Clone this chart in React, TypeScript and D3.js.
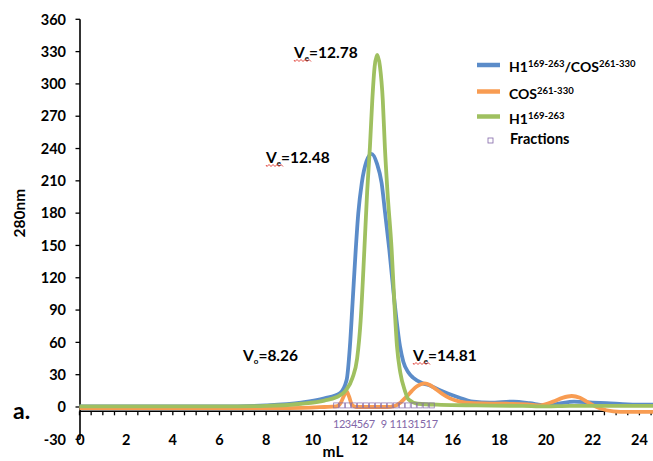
import * as d3 from 'd3'

// elution traces, [mL, A280]
const complexTrace: [number, number][] = [
  [0, 0.5], [6, 0.5], [8, 1.5], [9.5, 4], [10.5, 8], [11.17, 13], [11.45, 25], [11.59, 56],
  [11.7, 95], [11.84, 146], [11.95, 180], [12.1, 208], [12.3, 228], [12.52, 235], [12.75, 226],
  [12.95, 208], [13.1, 180], [13.28, 146], [13.5, 98], [13.74, 56], [13.88, 42], [14.1, 32],
  [14.31, 27], [14.7, 22], [15.02, 20], [15.4, 16], [16.17, 9.5], [16.88, 5], [17.6, 4],
  [18.6, 5], [19.3, 3.5], [19.9, 1.5], [20.5, 3], [21.2, 5], [22, 4], [22.6, 3.5], [23.5, 2.5], [25, 2],
]
const cosTrace: [number, number][] = [
  [0, -1], [6, -1], [9, -1], [10.5, 0], [11.0, 0.5], [11.2, 4], [11.35, 11], [11.45, 14.5],
  [11.55, 10], [11.68, 2], [11.85, 0], [12.5, 0], [13.2, 0], [13.45, 0.5], [13.75, 4], [14.02, 9.6],
  [14.25, 15], [14.45, 19], [14.8, 22], [15.05, 20], [15.31, 16], [15.6, 11.5], [15.88, 8],
  [16.3, 5], [16.88, 3.5], [18.3, 3], [19.2, 2.5], [19.74, 1.5], [20.3, 5], [20.7, 8.5],
  [21.1, 10.2], [21.45, 8.5], [21.74, 5], [22.3, -1.2], [22.88, -4], [23.5, -4.5], [25, -4.5],
]
const h1Trace: [number, number][] = [
  [0, 0.5], [6, 0.5], [8, 1], [9.5, 3], [10.5, 6], [11, 9], [11.4, 15], [11.7, 27], [11.9, 45],
  [12.05, 80], [12.21, 146], [12.33, 200], [12.45, 242], [12.55, 285], [12.65, 316], [12.76, 327],
  [12.88, 316], [13.0, 285], [13.09, 241], [13.2, 200], [13.38, 146], [13.5, 95], [13.61, 56],
  [13.75, 32], [13.95, 15], [14.1, 7], [14.5, 3], [15.5, 2], [17, 1.5], [19, 1], [20, 0.5],
  [21, 1], [22, 1], [25, 1],
]

const fractionVolumes = [11.0, 11.26, 11.51, 11.77, 12.02, 12.28, 12.54, 12.79, 13.05, 13.3, 13.56, 13.82, 14.07, 14.33, 14.58, 14.84, 15.1]
const fractionLabels = ['1', '2', '3', '4', '5', '6', '7', '', '9', '', '11', '', '13', '', '15', '', '17']

const yTicks = [-30, 0, 30, 60, 90, 120, 150, 180, 210, 240, 270, 300, 330, 360]
const xTicks = [0, 2, 4, 6, 8, 10, 12, 14, 16, 18, 20, 22, 24]

const peakNotes = [
  { x: 294, y: 58, sub: 'e', value: '12.78', squiggle: true },
  { x: 266, y: 163, sub: 'e', value: '12.48', squiggle: true },
  { x: 243, y: 361, sub: 'o', value: '8.26', squiggle: false },
  { x: 413, y: 361, sub: 'e', value: '14.81', squiggle: true },
]

const BLUE = '#5b8cc9'
const ORANGE = '#f89c52'
const GREEN = '#9fc060'
const PURPLE = '#8267a8'
const FONT = 'Lato, "Open Sans", sans-serif'

function Squiggle({ x, y, w }: { x: number; y: number; w: number }) {
  let d = `M${x},${y}`
  for (let i = 0; i * 2 < w; i++) d += ` L${x + i * 2 + 1},${y + (i % 2 === 0 ? 1.5 : -0.5)}`
  return <path d={d} fill="none" stroke="#e0332a" strokeWidth={0.9} />
}

export default function App() {
  const width = 653
  const height = 461
  const x = d3.scaleLinear().domain([0, 25]).range([79.5, 79.5 + 25 * 23.33])
  const y = d3.scaleLinear().domain([-30, 360]).range([439.3, 19.3])
  const axisY = y(-4)

  const line = d3.line<[number, number]>()
    .x(d => x(d[0]))
    .y(d => y(d[1]))
    .curve(d3.curveMonotoneX)

  const minorTicks = d3.range(0, 25, 0.5)

  return (
    <svg width={width} height={height} style={{ position: 'absolute', left: 0, top: 0, background: '#fff' }}
      fontFamily={FONT}>
      {/* y axis */}
      <line x1={80} x2={80} y1={y(-30)} y2={y(360)} stroke="#000" strokeWidth={1.6} />
      {yTicks.map(t => (
        <g key={t}>
          <line x1={75.5} x2={80} y1={y(t)} y2={y(t)} stroke="#000" strokeWidth={1.3} />
          <text x={66} y={y(t)} dy="0.36em" textAnchor="end" fontSize={14.5} fontWeight="bold">{t}</text>
        </g>
      ))}
      <text transform={`translate(25,${y(180)}) rotate(-90)`} textAnchor="middle" fontSize={15.5} fontWeight="bold">280nm</text>

      {/* x axis */}
      <line x1={80} x2={width} y1={axisY} y2={axisY} stroke="#000" strokeWidth={1.6} />
      {minorTicks.map(t => (
        <line key={t} x1={x(t)} x2={x(t)} y1={axisY} y2={axisY + 4} stroke="#000" strokeWidth={1.3} />
      ))}
      {xTicks.map(t => (
        <text key={t} x={x(t) + (t === 0 ? 1 : 0)} y={y(-30)} dy="0.36em" textAnchor="middle" fontSize={14.5} fontWeight="bold">{t}</text>
      ))}
      <text x={333} y={457} textAnchor="middle" fontSize={15.5} fontWeight="bold">mL</text>
      <text x={13} y={419} fontSize={23} fontWeight="bold">a.</text>

      {/* traces */}
      <path d={line(complexTrace) ?? ''} fill="none" stroke={BLUE} strokeWidth={3.8} />
      <path d={line(cosTrace) ?? ''} fill="none" stroke={ORANGE} strokeWidth={3.8} />
      <path d={line(h1Trace) ?? ''} fill="none" stroke={GREEN} strokeWidth={3.8} />

      {/* fractions */}
      {fractionVolumes.map((v, i) => (
        <g key={i}>
          <rect x={x(v) - 2.5} y={y(1) - 3} width={5} height={5} fill="none" stroke={PURPLE} strokeWidth={0.8} opacity={0.85} />
          {fractionLabels[i] && (
            <text x={x(v)} y={428} textAnchor="middle" fontSize={11} fill={PURPLE}>{fractionLabels[i]}</text>
          )}
        </g>
      ))}

      {/* peak annotations */}
      {peakNotes.map((n, i) => (
        <g key={i}>
          <text x={n.x} y={n.y} fontSize={15.5} fontWeight="bold">
            V<tspan fontSize={8} dy={3}>{n.sub}</tspan><tspan dy={-3}>={n.value}</tspan>
          </text>
          {n.squiggle && <Squiggle x={n.x} y={n.y + 2} w={17} />}
        </g>
      ))}

      {/* legend */}
      <line x1={477} x2={500} y1={65} y2={65} stroke={BLUE} strokeWidth={4.5} />
      <text x={509} y={72} fontSize={14} fontWeight="bold">
        H1<tspan fontSize={9.5} dy={-5}>169-263</tspan><tspan dy={5}>/COS</tspan><tspan fontSize={9.5} dy={-5}>261-330</tspan>
      </text>
      <line x1={477} x2={500} y1={91.5} y2={91.5} stroke={ORANGE} strokeWidth={4.5} />
      <text x={509} y={98.5} fontSize={14} fontWeight="bold">
        COS<tspan fontSize={9.5} dy={-5}>261-330</tspan>
      </text>
      <line x1={477} x2={500} y1={116.5} y2={116.5} stroke={GREEN} strokeWidth={4.5} />
      <text x={509} y={123.5} fontSize={14} fontWeight="bold">
        H1<tspan fontSize={9.5} dy={-5}>169-263</tspan>
      </text>
      <rect x={488} y={138} width={5} height={5} fill="none" stroke={PURPLE} strokeWidth={0.8} />
      <text x={510} y={143.5} fontSize={14.5} fontWeight="bold">Fractions</text>
    </svg>
  )
}
